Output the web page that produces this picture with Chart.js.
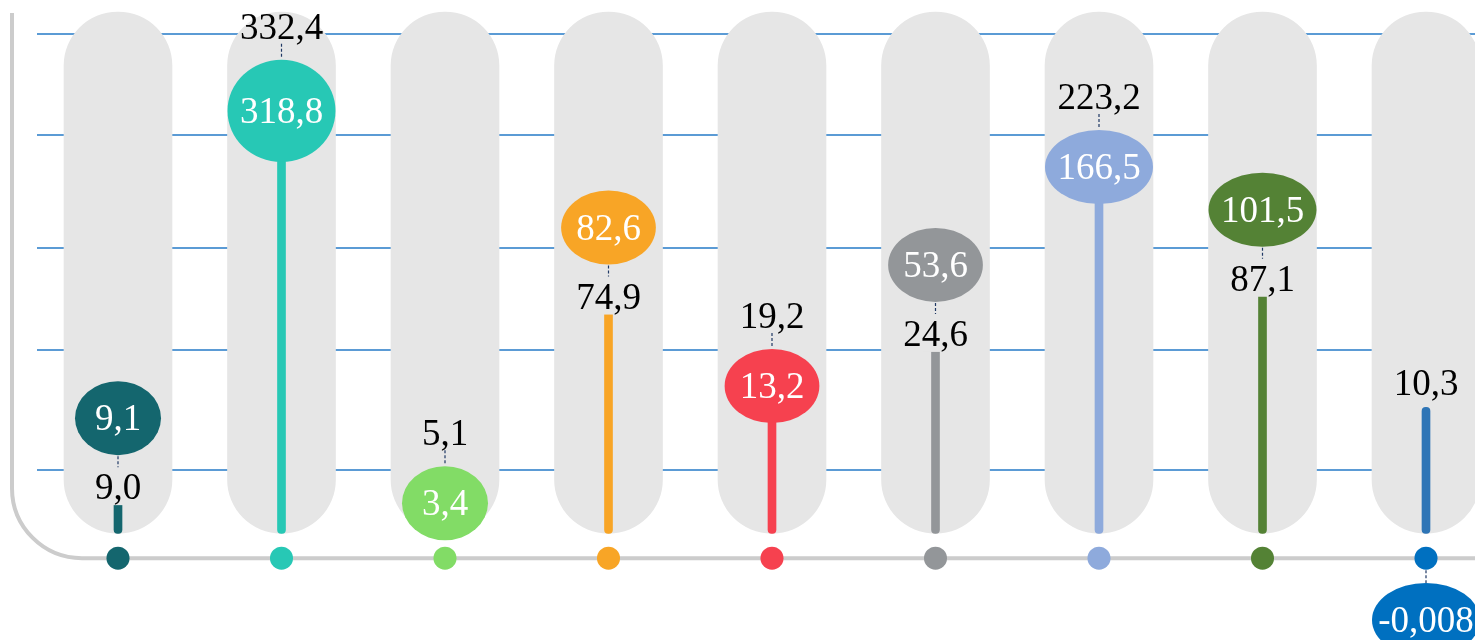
<!DOCTYPE html>
<html>
<head>
<meta charset="utf-8">
<script src="https://cdn.jsdelivr.net/npm/chart.js@4.4.1/dist/chart.umd.min.js"></script>
<style>
html,body{margin:0;padding:0;background:#ffffff;overflow:hidden}
#wrap{position:relative;width:1475px;height:640px}
</style>
</head>
<body>
<div id="wrap"><canvas id="c" width="1475" height="640"></canvas></div>
<script>
// ---- data ----
const categories = ['Item 1','Item 2','Item 3','Item 4','Item 5','Item 6','Item 7','Item 8','Item 9'];
const currentValues = [9.1, 318.8, 3.4, 82.6, 13.2, 53.6, 166.5, 101.5, -0.008];   // bubbles
const previousValues = [9.0, 332.4, 5.1, 74.9, 19.2, 24.6, 223.2, 87.1, 10.3];     // bars
const gridTicks = [5, 20, 65, 240, 780];
const seriesColors = ['#14666e','#27c8b5','#82dc66','#f8a526','#f6414f','#939699','#8eaadc','#548235','#0070c0'];
const barColors    = ['#14666e','#27c8b5','#82dc66','#f8a526','#f6414f','#939699','#8eaadc','#548235','#2e75b6'];

// ---- scale settings ----
const Y_MIN = 0.88, Y_MAX = 1150;
const BAR_BASE = 2.4;     // where the bars and columns start
const PILL_TOP = 1000;    // top of the grey column backgrounds
const AXIS_LEVEL = 1.8;   // level of the baseline with the markers

const FONT = '37px "Liberation Serif", "Times New Roman", serif';
const PILL_COLOR = '#e6e6e6';

function fmt(v) {
  const d = (v !== 0 && Math.abs(v) < 0.1) ? 3 : 1;
  return v.toFixed(d).replace('.', ',');
}

const deco = {
  id: 'deco',
  beforeDatasetsDraw(chart) {
    const ctx = chart.ctx, y = chart.scales.y;
    ctx.save();
    ctx.strokeStyle = '#5b9bd5';
    ctx.lineWidth = 2;
    gridTicks.forEach(t => {
      const py = Math.round(y.getPixelForValue(t));
      ctx.beginPath(); ctx.moveTo(37, py); ctx.lineTo(chart.width, py); ctx.stroke();
    });
    const ay = y.getPixelForValue(AXIS_LEVEL);
    const R = 70, ax = 12;
    ctx.strokeStyle = '#cccccc';
    ctx.lineWidth = 4;
    ctx.beginPath();
    ctx.moveTo(ax, 13);
    ctx.lineTo(ax, ay - R);
    ctx.arcTo(ax, ay, ax + R, ay, R);
    ctx.lineTo(chart.width, ay);
    ctx.stroke();
    ctx.restore();
  },
  afterDatasetsDraw(chart) {
    const ctx = chart.ctx, y = chart.scales.y;
    const barMeta = chart.getDatasetMeta(1);
    const ptMeta = chart.getDatasetMeta(3);
    const ay = y.getPixelForValue(AXIS_LEVEL);
    ctx.save();
    ctx.font = FONT;
    ctx.textAlign = 'center';
    ctx.textBaseline = 'alphabetic';
    const connector = (x, y1, y2) => {
      ctx.save();
      ctx.strokeStyle = '#1f3864';
      ctx.lineWidth = 1.2;
      ctx.setLineDash([3, 2]);
      ctx.beginPath(); ctx.moveTo(x, y1); ctx.lineTo(x, y2); ctx.stroke();
      ctx.restore();
    };
    categories.forEach((c, i) => {
      const el = ptMeta.data[i];
      const cx = el.x, cy = el.y;
      const cur = currentValues[i], prev = previousValues[i];
      const txt = fmt(cur);
      const tw = ctx.measureText(txt).width;
      const h = Math.max(74, 0.32 * Math.abs(cur));
      const w = Math.min(Math.max(tw + 30, 86, h), 108);
      const top = cy - h / 2, bottom = cy + h / 2;
      const bar = barMeta.data[i];
      const ptxt = fmt(prev);
      ctx.fillStyle = '#000000';
      if (cur <= 0) {
        const base = bar.y - 12;
        ctx.fillText(ptxt, bar.x, base);
        connector(cx, ay + 12, top);
      } else if (prev > cur) {
        const base = top - 21;
        connector(cx, base + 5, top - 1);
        ctx.fillStyle = '#000000';
        ctx.fillText(ptxt, cx, base);
      } else {
        const base = bottom + 44;
        ctx.fillStyle = PILL_COLOR;
        ctx.fillRect(cx - 12, bottom - 2, 24, base + 6 - bottom + 2);
        connector(cx, bottom + 1, bottom + 12);
        ctx.fillStyle = '#000000';
        ctx.fillText(ptxt, cx, base);
      }
      ctx.fillStyle = seriesColors[i];
      ctx.beginPath();
      ctx.ellipse(cx, cy, w / 2, h / 2, 0, 0, Math.PI * 2);
      ctx.fill();
      ctx.fillStyle = '#ffffff';
      ctx.fillText(txt, cx, cy + 12);
    });
    ctx.restore();
  }
};

new Chart(document.getElementById('c'), {
  type: 'bar',
  data: {
    labels: categories,
    datasets: [
      {
        type: 'bar',
        data: categories.map(() => [BAR_BASE, PILL_TOP]),
        backgroundColor: PILL_COLOR,
        barThickness: 108,
        borderRadius: 54,
        borderSkipped: false,
        grouped: false,
        clip: false,
        order: 10
      },
      {
        type: 'bar',
        data: previousValues.map(v => [BAR_BASE, v]),
        backgroundColor: barColors,
        barThickness: 8,
        borderRadius: 4,
        borderSkipped: false,
        grouped: false,
        clip: false,
        order: 5
      },
      {
        type: 'line',
        data: categories.map(() => AXIS_LEVEL),
        showLine: false,
        pointRadius: 11.5,
        pointBackgroundColor: seriesColors,
        pointBorderWidth: 0,
        clip: false,
        order: 1
      },
      {
        type: 'line',
        data: currentValues.map(v => v > 0 ? v : Y_MIN),
        showLine: false,
        pointRadius: 0,
        clip: false,
        order: 0
      }
    ]
  },
  options: {
    responsive: false,
    animation: false,
    events: [],
    layout: { autoPadding: false, padding: { left: 118, right: 49, top: 0, bottom: 20 } },
    plugins: { legend: { display: false }, tooltip: { enabled: false } },
    scales: {
      x: { type: 'category', offset: false, display: false, grid: { display: false } },
      y: { type: 'logarithmic', min: Y_MIN, max: Y_MAX, display: false, grid: { display: false } }
    }
  },
  plugins: [deco]
});
</script>
</body>
</html>
